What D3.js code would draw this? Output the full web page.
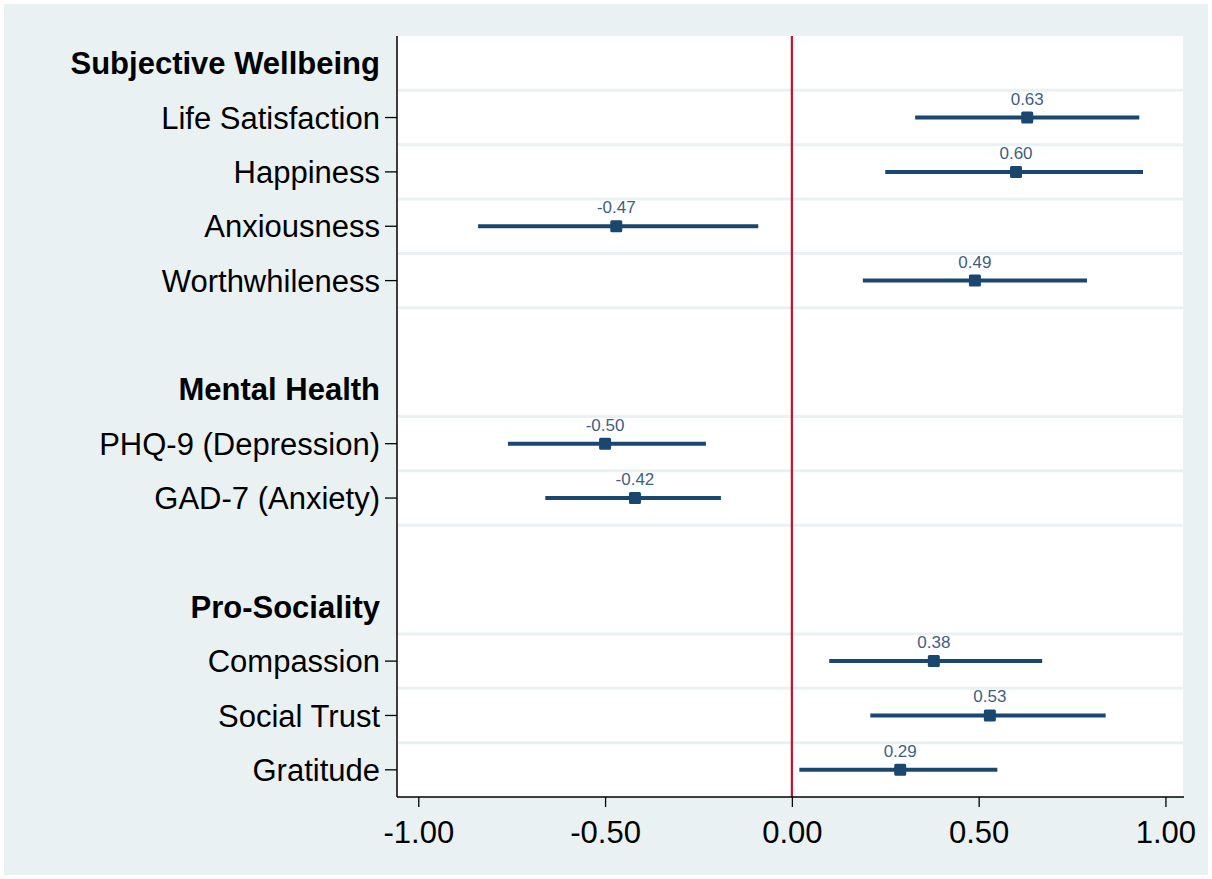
<!DOCTYPE html>
<html><head><meta charset="utf-8">
<script src="https://cdn.jsdelivr.net/npm/d3@7"></script>
<style>html,body{margin:0;padding:0;background:#fff;}svg{display:block;}</style>
</head><body>
<svg id="chart" width="1212" height="879"></svg>
<script>
// ---- data ----
const rowLabels = ["Subjective Wellbeing","Life Satisfaction","Happiness","Anxiousness","Worthwhileness","","Mental Health","PHQ-9 (Depression)","GAD-7 (Anxiety)","","Pro-Sociality","Compassion","Social Trust","Gratitude"];
const headerRows = ["Subjective Wellbeing","Mental Health","Pro-Sociality"];
const outcomes = ["Life Satisfaction","Happiness","Anxiousness","Worthwhileness","PHQ-9 (Depression)","GAD-7 (Anxiety)","Compassion","Social Trust","Gratitude"];
const estimates = [0.63, 0.60, -0.47, 0.49, -0.50, -0.42, 0.38, 0.53, 0.29];
const ciLow  = [0.33, 0.25, -0.84, 0.19, -0.76, -0.66, 0.10, 0.21, 0.02];
const ciHigh = [0.93, 0.94, -0.09, 0.79, -0.23, -0.19, 0.67, 0.84, 0.55];
const xTicks = [-1, -0.5, 0, 0.5, 1];
const gridAfter = ["Subjective Wellbeing","Life Satisfaction","Happiness","Anxiousness","Worthwhileness","Mental Health","PHQ-9 (Depression)","GAD-7 (Anxiety)","Pro-Sociality","Compassion","Social Trust"];

// ---- layout ----
const svg = d3.select("#chart");
const W = 1212, H = 879;
const L = 397, R = 1183, T = 36, B = 797;
const navy = "#1a476f";
const font = "'Liberation Sans', Arial, sans-serif";
const fmt = v => d3.format(".2f")(v).replace("\u2212", "-");

svg.append("rect").attr("x",4).attr("y",4).attr("width",W-8).attr("height",H-8).attr("fill","#eaf1f3");
svg.append("rect").attr("x",L).attr("y",T).attr("width",R-L).attr("height",B-T).attr("fill","#fff");

const x = d3.scaleLinear().domain([-1.057, 1.047]).range([L, R]);
const yIdx = d3.scaleLinear().domain([-0.5, 13.5]).range([T, B]);
const y = name => yIdx(rowLabels.indexOf(name));

// gridlines
svg.append("g").selectAll("line").data(gridAfter).join("line")
  .attr("x1", L).attr("x2", R)
  .attr("y1", d => yIdx(rowLabels.indexOf(d) + 0.5))
  .attr("y2", d => yIdx(rowLabels.indexOf(d) + 0.5))
  .attr("stroke", "#eaf1f3").attr("stroke-width", 3);

// zero line
svg.append("line").attr("x1", x(0)).attr("x2", x(0)).attr("y1", T).attr("y2", B)
  .attr("stroke", "#c8102e").attr("stroke-width", 2.2);

// y axis
const yAxis = svg.append("g").attr("transform", `translate(${L},0)`);
yAxis.append("line").attr("x1",0).attr("x2",0).attr("y1",T).attr("y2",B).attr("stroke","#000").attr("stroke-width",1.5);
yAxis.selectAll("line.tick").data(outcomes).join("line").attr("class","tick")
  .attr("x1",-12).attr("x2",0).attr("y1",d=>y(d)).attr("y2",d=>y(d)).attr("stroke","#000").attr("stroke-width",1.3);
yAxis.selectAll("text").data(rowLabels.filter(d=>d)).join("text")
  .attr("x", -17).attr("y", d => y(d)).attr("dy","0.36em")
  .attr("text-anchor","end")
  .attr("font-family", font)
  .attr("font-size", 31)
  .attr("font-weight", d => headerRows.includes(d) ? "bold" : "normal")
  .attr("fill","#000").text(d => d);

// x axis
const xAxis = d3.axisBottom(x).tickValues(xTicks).tickFormat(fmt).tickSize(10).tickPadding(14);
const gx = svg.append("g").attr("transform", `translate(0,${B})`).call(xAxis);
gx.select(".domain").attr("d", `M${L},0H${R+1}`).attr("stroke","#000").attr("stroke-width",1.5);
gx.selectAll(".tick line").attr("stroke","#000").attr("stroke-width",1.3);
gx.selectAll(".tick text").attr("font-family", font).attr("font-size",31).attr("fill","#000");

// CIs
const pts = outcomes.map((o,i)=>({o, est: estimates[i], lo: ciLow[i], hi: ciHigh[i]}));
svg.append("g").selectAll("line").data(pts).join("line")
  .attr("x1", d=>x(d.lo)).attr("x2", d=>x(d.hi))
  .attr("y1", d=>y(d.o)).attr("y2", d=>y(d.o))
  .attr("stroke", navy).attr("stroke-width", 4);
// markers
svg.append("g").selectAll("rect").data(pts).join("rect")
  .attr("x", d=>x(d.est)-4.5).attr("y", d=>y(d.o)-4.5).attr("width",9).attr("height",9)
  .attr("fill", navy).attr("stroke", navy).attr("stroke-width", 3).attr("stroke-linejoin","round");
// value labels
svg.append("g").selectAll("text").data(pts).join("text")
  .attr("x", d=>x(d.est)).attr("y", d=>y(d.o)-13)
  .attr("text-anchor","middle")
  .attr("font-family", font).attr("font-size",17)
  .attr("fill","#3e5f82").text(d => fmt(d.est));
</script>
</body></html>
